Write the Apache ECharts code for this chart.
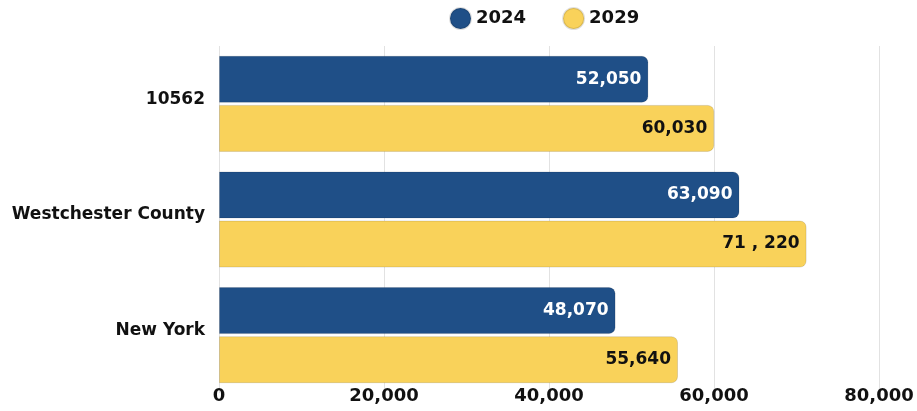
<!DOCTYPE html>
<html>
<head>
<meta charset="utf-8">
<script src="https://cdn.jsdelivr.net/npm/echarts@6/dist/echarts.min.js"></script>
<style>
  html, body { margin: 0; padding: 0; background: #ffffff; }
  #chart { width: 917px; height: 411px; }
</style>
</head>
<body>
<div id="chart"></div>
<script>
// Household income by area, current year vs. projection
const categories = ['10562', 'Westchester County', 'New York'];
const seriesNames = ['2024', '2029'];
const values2024 = [52050, 63090, 48070];
const values2029 = [60030, 71220, 55640];
const labels2024 = ['52,050', '63,090', '48,070'];
const labels2029 = ['60,030', '71 , 220', '55,640'];
const xTicks = [0, 20000, 40000, 60000, 80000];

const FONT = 'DejaVu Sans';
const NAVY = '#1f4f87';
const GOLD = '#f9d25a';

const chart = echarts.init(document.getElementById('chart'), null, { renderer: 'canvas' });

function barSeries(name, values, labels, color, textColor) {
  return {
    name: name,
    type: 'bar',
    data: values,
    barWidth: 47,
    barGap: '4.5%',
    itemStyle: {
      color: color,
      borderRadius: [0, 6, 6, 0],
      borderColor: 'rgba(0,0,0,0.12)',
      borderWidth: 1
    },
    label: {
      show: true,
      position: 'insideRight',
      distance: 7,
      color: textColor,
      fontFamily: FONT,
      fontWeight: 'bold',
      fontSize: 17,
      formatter: p => labels[p.dataIndex]
    },
    emphasis: { disabled: true }
  };
}

chart.setOption({
  animation: false,
  backgroundColor: '#ffffff',
  legend: {
    data: seriesNames,
    top: 2,
    left: 444,
    icon: 'circle',
    itemWidth: 21,
    itemHeight: 21,
    itemGap: 36,
    textStyle: { fontFamily: FONT, fontWeight: 'bold', fontSize: 18, color: '#111' }
  },
  grid: { left: 219, right: 38, top: 46, bottom: 18, containLabel: false },
  xAxis: {
    type: 'value',
    min: 0,
    max: 80000,
    interval: 20000,
    axisLine: { show: false },
    axisTick: { show: false },
    splitLine: { show: true, lineStyle: { color: '#e2e2e2', width: 1 } },
    axisLabel: {
      fontFamily: FONT,
      fontWeight: 'bold',
      fontSize: 18,
      color: '#111',
      margin: -6,
      formatter: v => xTicks.includes(v) ? v.toLocaleString('en-US') : ''
    }
  },
  yAxis: {
    type: 'category',
    data: categories,
    inverse: true,
    axisLine: { show: false },
    axisTick: { show: false },
    axisLabel: {
      fontFamily: FONT,
      fontWeight: 'bold',
      fontSize: 17,
      color: '#111',
      margin: 14,
      verticalAlign: 'bottom',
      lineHeight: 9
    }
  },
  series: [
    barSeries(seriesNames[0], values2024, labels2024, NAVY, '#ffffff'),
    barSeries(seriesNames[1], values2029, labels2029, GOLD, '#111111')
  ]
});
</script>
</body>
</html>
